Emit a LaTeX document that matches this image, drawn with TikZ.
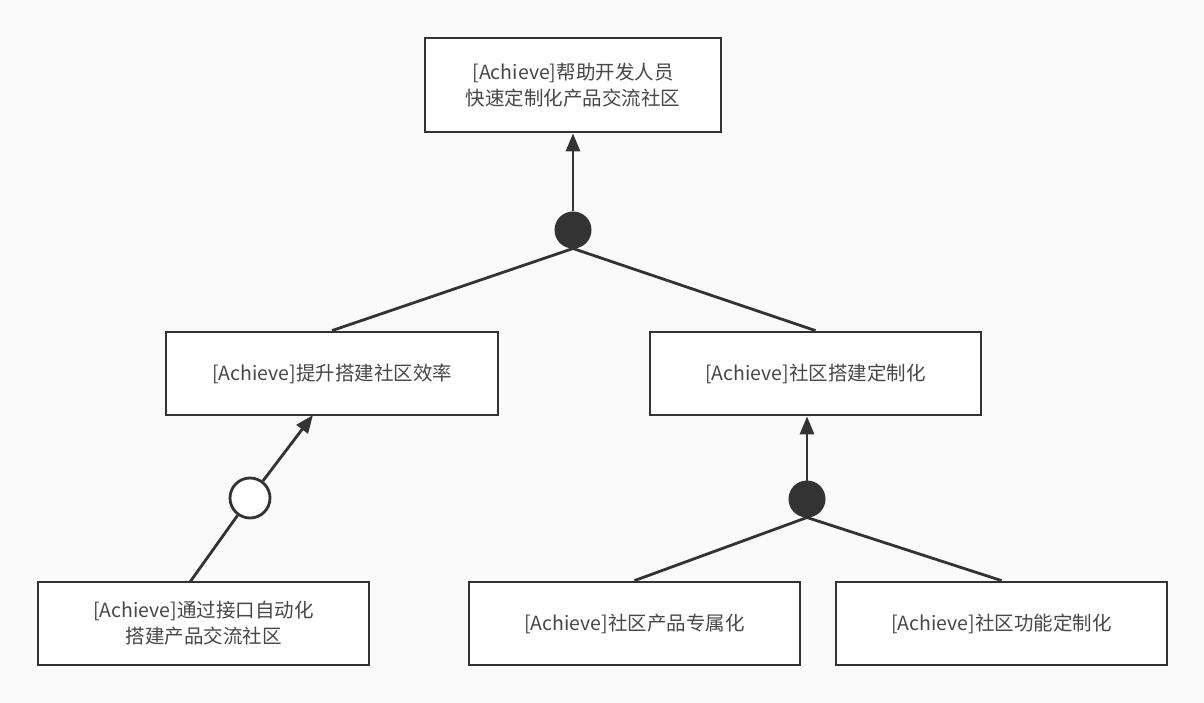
\documentclass[tikz,border=0pt]{standalone}
\usepackage{fontspec}
\setmainfont{Noto Sans CJK SC}
\usetikzlibrary{arrows.meta,calc}
\definecolor{ln}{HTML}{333333}
\definecolor{bg}{HTML}{FAFAFA}
\begin{document}
\begin{tikzpicture}[x=1pt,y=-1pt,
  goal/.style={draw=ln,line width=2.8pt,fill=white,minimum width=#1,minimum height=83pt,inner sep=0pt,
    align=center,font=\fontsize{19.5}{26}\selectfont,text=ln!90},
  link/.style={draw=ln,line width=2.8pt},
  arr/.style={link,-{Triangle[length=18pt,width=14pt]}},
  fdot/.style={circle,fill=ln,draw=ln,line width=1pt,minimum size=36pt,inner sep=0pt},
  odot/.style={circle,fill=white,draw=ln,line width=2.8pt,minimum size=40pt,inner sep=0pt}]
\fill[bg] (0,0) rectangle (1204,703);
\useasboundingbox (0,0) rectangle (1204,703);
\node[goal=296pt,minimum height=94pt] (top) at (573,85) {[Achieve]帮助开发人员\\快速定制化产品交流社区};
\node[goal=332pt] (ml) at (332,373.5) {[Achieve]提升搭建社区效率};
\node[goal=331pt] (mr) at (815.5,373.5) {[Achieve]社区搭建定制化};
\node[goal=331pt] (bl) at (203.5,623.5) {[Achieve]通过接口自动化\\搭建产品交流社区};
\node[goal=331pt] (bm) at (634.5,623.5) {[Achieve]社区产品专属化};
\node[goal=331pt] (br) at (1001.5,623.5) {[Achieve]社区功能定制化};
\node[fdot] (d1) at (573,230) {};
\node[fdot] (d2) at (807,499) {};
\node[odot] (o1) at (250,498) {};
\coordinate (blt) at (190,582);
\coordinate (mlb) at (313,415);
\draw[arr] (d1) -- (top);
\draw[link] (d1.south) -- (ml.north);
\draw[link] (d1.south) -- (mr.north);
\draw[arr] (d2) -- (d2 |- mr.south);
\draw[link] (d2.south) -- (bm.north);
\draw[link] (d2.south) -- (br.north);
\draw[link] (blt) -- (o1);
\draw[arr] (o1) -- (mlb);
\end{tikzpicture}
\end{document}
